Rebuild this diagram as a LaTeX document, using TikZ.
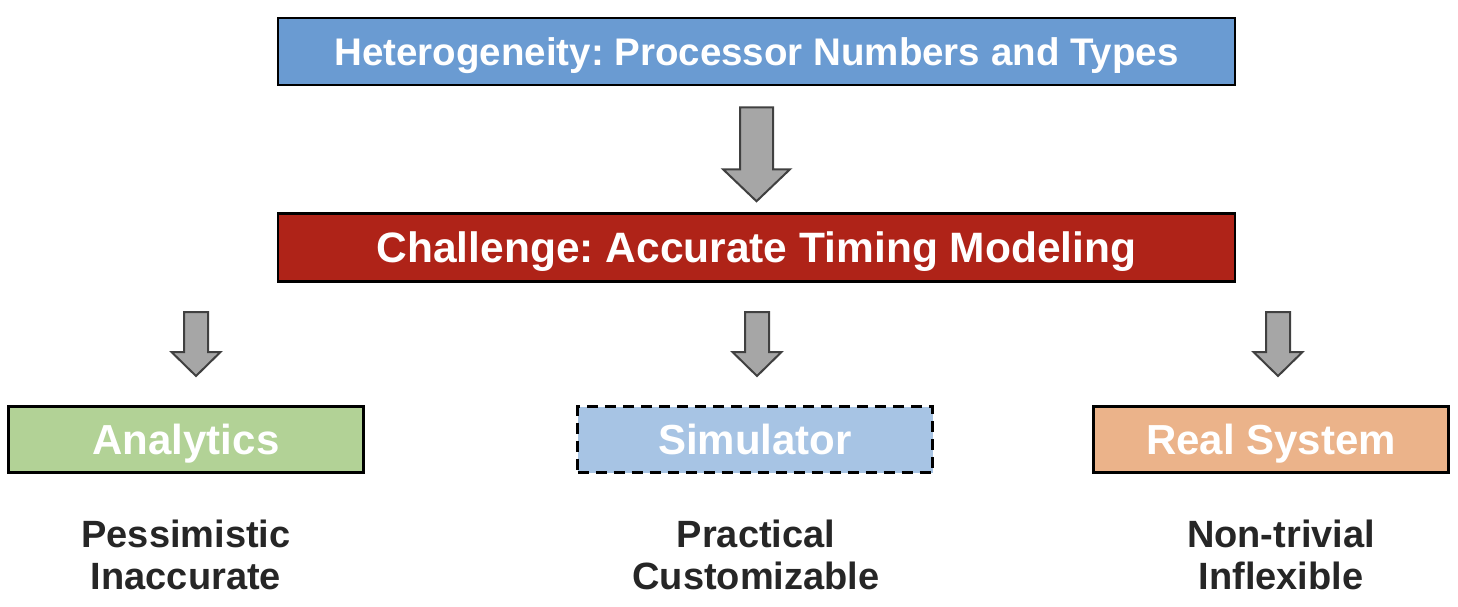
\documentclass[tikz,border=0pt]{standalone}
\usepackage{fontspec}
\setmainfont{Liberation Sans}
\usetikzlibrary{calc}

\definecolor{hetblue}{HTML}{6A9BD2}
\definecolor{chalred}{HTML}{AF2318}
\definecolor{anagreen}{HTML}{B2D296}
\definecolor{simblue}{HTML}{A7C4E4}
\definecolor{realorange}{HTML}{EBB38A}
\definecolor{arrowgray}{HTML}{A6A6A6}
\definecolor{arrowedge}{HTML}{404040}
\definecolor{notetext}{HTML}{262626}

\tikzset{
	widebox/.style={draw=black, line width=2.5pt, inner sep=0pt, minimum width=957pt, minimum height=67pt, text=white, text height=27.5pt, text depth=0pt, font=\bfseries\fontsize{38.5}{44}\selectfont},
	pathbox/.style={draw=black, line width=2.5pt, inner sep=0pt, minimum width=355pt, minimum height=66pt, text=white, text height=30pt, text depth=0pt, font=\bfseries\fontsize{42}{48}\selectfont},
	note/.style={align=center, text=notetext, inner sep=0pt, font=\bfseries\fontsize{38}{42}\selectfont},
	arrowbody/.style={fill=arrowgray, draw=arrowedge, line width=2pt, line join=miter}
}

% block arrow: start, tip, half shaft, half head, head length
\newcommand{\blockarrow}[5]{
	\draw[arrowbody] ($(#1)+(-#3,0)$) -- ($(#1)+(#3,0)$) -- ($(#2)+(#3,-#5)$) -- ($(#2)+(#4,-#5)$) -- (#2) -- ($(#2)+(-#4,-#5)$) -- ($(#2)+(-#3,-#5)$) -- cycle;
}

\begin{document}
\frenchspacing
\begin{tikzpicture}[x=1pt, y=-1pt]
	\useasboundingbox (0, 0) rectangle (1458, 606);

	\node[widebox, fill=hetblue] (hetero) at (756.5, 51.5) {Heterogeneity: Processor Numbers and Types};
	\node[widebox, fill=chalred, minimum height=68pt, text height=30.5pt, font=\bfseries\fontsize{42.5}{48}\selectfont] (challenge) at (756.5, 247.5) {Challenge: Accurate Timing Modeling};

	\node[pathbox, fill=anagreen] (analytics) at (186, 439.5) {Analytics};
	\node[pathbox, fill=simblue, dashed, dash pattern=on 11pt off 7pt] (simulator) at (755, 439.5) {Simulator};
	\node[pathbox, fill=realorange] (realsys) at (1271, 439.5) {Real System};

	\node[note] (anote) at (186, 555) {Pessimistic\\Inaccurate};
	\node[note] (snote) at (756, 555) {Practical\\Customizable};
	\node[note] (rnote) at (1281, 555) {Non-trivial\\Inflexible};

	% arrows between the levels
	\coordinate (a0s) at ($(hetero.south)+(0, 21)$);
	\coordinate (a0e) at ($(challenge.north)+(0, -11)$);
	\blockarrow{a0s}{a0e}{16.5}{33.5}{32}

	\coordinate (a1s) at (196, 312);
	\coordinate (a1e) at (196, 376);
	\blockarrow{a1s}{a1e}{12}{24.5}{24}
	\coordinate (a2s) at (757, 312);
	\coordinate (a2e) at (757, 376);
	\blockarrow{a2s}{a2e}{12}{24.5}{24}
	\coordinate (a3s) at (1278, 312);
	\coordinate (a3e) at (1278, 376);
	\blockarrow{a3s}{a3e}{12}{24.5}{24}
\end{tikzpicture}
\end{document}
